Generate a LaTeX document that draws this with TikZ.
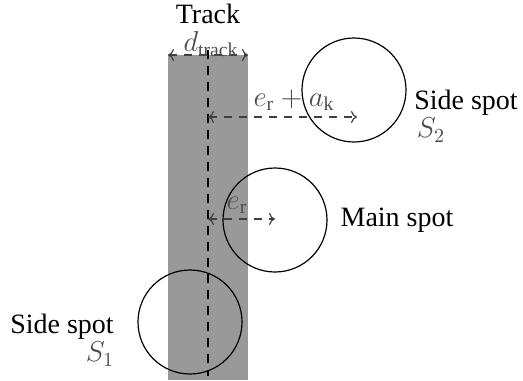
\documentclass[tikz,border=0pt]{standalone}
\usepackage{fontspec}
\setmainfont{Liberation Serif}
\usetikzlibrary{arrows.meta}
\begin{document}
\begin{tikzpicture}[x=0.5pt,y=-0.5pt,
  spot/.style={circle,draw=black,line width=0.6pt,minimum size=52pt,inner sep=0pt},
  dim/.style={{To[length=3pt,width=6pt]}-{To[length=3pt,width=6pt]},draw=black!75,line width=0.6pt,dash pattern=on 4pt off 3.5pt},
  lbl/.style={text=black,font=\fontsize{14}{16}\selectfont,inner sep=0pt},
  mlbl/.style={text=black!70,font=\fontsize{14}{16}\selectfont,inner sep=0pt}]
\useasboundingbox (0,0) rectangle (523,380);
\fill[black!40] (168,55) rectangle (248,380);
\coordinate (ctop) at (208,50);
\coordinate (cbot) at (208,376);
\draw[line width=0.6pt,dash pattern=on 4.5pt off 3.5pt] (ctop) -- (cbot);
\node[spot] (s2) at (354,90) {};
\node[spot] (m) at (275,220) {};
\node[spot] (s1) at (190,322) {};
\coordinate (dl) at (168,55);
\coordinate (dr) at (248,55);
\draw[dim] (dl) -- (dr);
\coordinate (a1) at (208,117);
\coordinate (a2) at (357,117);
\draw[dim] (a1) -- (a2);
\coordinate (b1) at (208,219);
\coordinate (b2) at (275,219);
\draw[dim] (b1) -- (b2);
\node[lbl] (track) at (208,14) {Track};
\node[mlbl] (dtr) at (211,44) {$d_{\mathrm{track}}$};
\node[mlbl] (erak) at (294,100) {$e_{\mathrm{r}}+a_{\mathrm{k}}$};
\node[mlbl] (er) at (237,205) {$e_{\mathrm{r}}$};
\node[lbl] (t2) at (466,103) {Side spot};
\node[mlbl] (S2) at (431,130) {$S_2$};
\node[lbl] (tm) at (397,220) {Main spot};
\node[lbl] (t1) at (62,327) {Side spot};
\node[mlbl] (S1) at (100,354) {$S_1$};
\end{tikzpicture}
\end{document}
